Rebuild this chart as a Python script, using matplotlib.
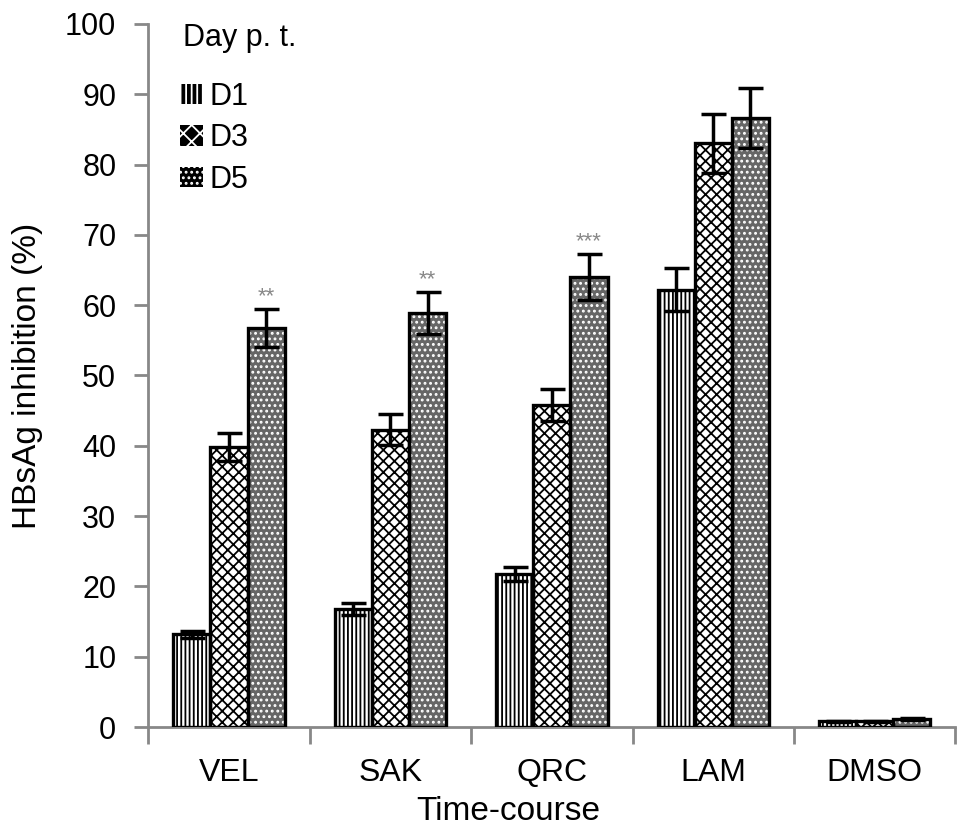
import matplotlib
matplotlib.use("Agg")
import matplotlib.pyplot as plt
from matplotlib.patches import Patch
import numpy as np

categories = ["VEL", "SAK", "QRC", "LAM", "DMSO"]
series_names = ["D1", "D3", "D5"]
d1 = [13.2, 16.8, 21.8, 62.2, 0.8]
d3 = [39.8, 42.3, 45.8, 83.0, 0.8]
d5 = [56.7, 58.9, 64.0, 86.6, 1.2]
d1_err = [0.5, 0.8, 1.0, 3.1, 0.1]
d3_err = [2.0, 2.2, 2.3, 4.2, 0.1]
d5_err = [2.7, 3.0, 3.3, 4.3, 0.15]
stars = ["**", "**", "***", "", ""]

plt.rcParams['font.family'] = ['Liberation Sans', 'DejaVu Sans']
plt.rcParams['hatch.linewidth'] = 1.3

fig = plt.figure(figsize=(9.69, 8.4), dpi=100)
ax = fig.add_axes([0.153, 0.1345, 0.833, 0.837])

x = np.arange(len(categories))
w = 0.23
styles = [
    dict(face="white", hatch="||||", hcolor="black"),
    dict(face="white", hatch="xxx", hcolor="black"),
    dict(face="#666666", hatch="...", hcolor="white"),
]
vals = [d1, d3, d5]
errs = [d1_err, d3_err, d5_err]
for i, (v, e, st) in enumerate(zip(vals, errs, styles)):
    pos = x + (i - 1) * w
    ax.bar(pos, v, w, color=st["face"], edgecolor=st["hcolor"], hatch=st["hatch"], linewidth=0, zorder=2)
    ax.bar(pos, v, w, color="none", edgecolor="black", linewidth=2.4, zorder=3)
    ax.errorbar(pos, v, yerr=e, fmt="none", ecolor="black", elinewidth=2.5, capsize=9, capthick=2.5, zorder=4)

for j, s in enumerate(stars):
    if s:
        ax.text(x[j] + w, d5[j] + d5_err[j] + 0.3, s, ha="center", va="bottom", fontsize=16, color="#888888")

ax.set_xlim(-0.5, 4.5)
ax.set_ylim(0, 100)
ax.set_yticks(np.arange(0, 101, 10))
ax.set_xticks(np.arange(-0.5, 4.6, 1.0))
ax.set_xticklabels([])
ax.set_xticks(x, minor=True)
ax.set_xticklabels(categories, minor=True)
ax.tick_params(axis="x", which="minor", length=0, pad=22, labelsize=23)
ax.tick_params(axis="x", which="major", length=12, width=2, color="#888888", direction="out")
ax.tick_params(axis="y", length=10, width=2, color="#888888", labelsize=22, pad=13)
for sp in ["top", "right"]:
    ax.spines[sp].set_visible(False)
for sp in ["left", "bottom"]:
    ax.spines[sp].set_color("#888888")
    ax.spines[sp].set_linewidth(2)
ax.set_ylabel("HBsAg inhibition (%)", fontsize=24, labelpad=16)
ax.set_xlabel("Time-course", fontsize=24, labelpad=2)
ax.xaxis.set_label_coords(0.446, -0.098)

# legend
ax.text(0.0434, 0.98, "Day p. t.", transform=ax.transAxes, ha="left", va="center", fontsize=22)
leg_handles = [
    Patch(facecolor="black", edgecolor="white", hatch="|||", linewidth=0),
    Patch(facecolor="black", edgecolor="white", hatch="xx", linewidth=0),
    Patch(facecolor="black", edgecolor="white", hatch="...", linewidth=0),
]
leg = ax.legend(leg_handles, series_names, loc="upper left",
                bbox_to_anchor=(0.0397, 0.918), frameon=False, fontsize=22,
                handlelength=0.75, handleheight=0.65, handletextpad=0.2, labelspacing=0.38,
                borderaxespad=0.0, borderpad=0.0)

fig.savefig("out.png", dpi=100)
